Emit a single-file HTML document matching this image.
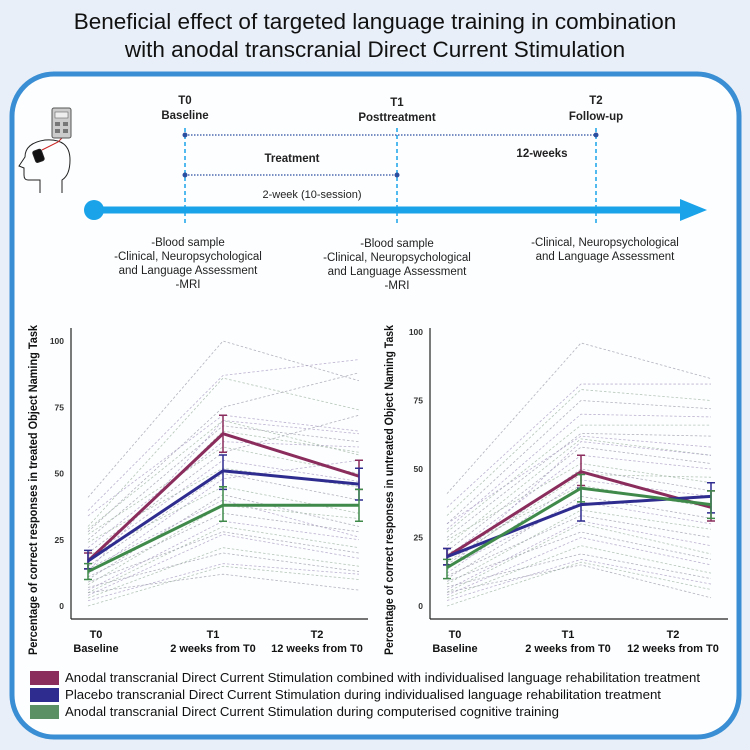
<!DOCTYPE html>
<html><head><meta charset="utf-8"><style>
html,body{margin:0;padding:0;background:#e8eff8;}
svg{display:block;font-family:"Liberation Sans",Arial,sans-serif;}
</style></head><body>
<svg id="root" width="750" height="750" viewBox="0 0 750 750">
<rect x="0" y="0" width="750" height="750" fill="#e8eff8"/>
<g>
<text x="375" y="29" text-anchor="middle" font-size="22.5" fill="#111">Beneficial effect of targeted language training in combination</text>
<text x="375" y="57" text-anchor="middle" font-size="22.5" fill="#111">with anodal transcranial Direct Current Stimulation</text>
</g>
<rect x="12" y="74" width="727" height="663" rx="42" ry="42" fill="#fdfeff" stroke="#3a8ed3" stroke-width="5"/>

<g fill="none" stroke="#222" stroke-width="1">
<path d="M40,193 L40,180 L28,180 Q24,180 24,175 L24,168 L19,166 L25,157 Q25,143 45,140 Q70,138 70,160 Q70,175 62,180 L62,193"/>
<rect x="34" y="150" width="9" height="12" rx="2" fill="#111" transform="rotate(-20 38 156)"/>
<path d="M42,150 Q50,146 58,142 L62,138" stroke="#c22"/>
<rect x="52" y="108" width="19" height="30" rx="2" fill="#ccc" stroke="#555"/>
<rect x="55" y="112" width="13" height="6" fill="#eee" stroke="#666" stroke-width="0.6"/>
<rect x="55" y="122" width="5" height="4" fill="#777" stroke="none"/><rect x="63" y="122" width="5" height="4" fill="#777" stroke="none"/>
<rect x="55" y="129" width="5" height="4" fill="#777" stroke="none"/><rect x="63" y="129" width="5" height="4" fill="#777" stroke="none"/>
</g>

<g>
<circle cx="94" cy="210" r="10" fill="#1aa3e8"/>
<rect x="94" y="206.5" width="590" height="7" fill="#1aa3e8"/>
<polygon points="680,199 707,210 680,221" fill="#1aa3e8"/>
<g stroke="#1aa3e8" stroke-width="1.5" stroke-dasharray="4,3">
<line x1="185" y1="128" x2="185" y2="225"/><line x1="397" y1="128" x2="397" y2="225"/><line x1="596" y1="128" x2="596" y2="225"/>
</g>
<g stroke="#2a4fa0" stroke-width="1.3" stroke-dasharray="1.5,1.5">
<line x1="185" y1="135" x2="596" y2="135"/>
<line x1="185" y1="175" x2="397" y2="175"/>
</g>
<g fill="#2a4fa0"><circle cx="185" cy="135" r="2.5"/><circle cx="596" cy="135" r="2.5"/><circle cx="185" cy="175" r="2.5"/><circle cx="397" cy="175" r="2.5"/></g>
<g font-size="11.5" font-weight="bold" text-anchor="middle" fill="#222">
<text x="185" y="104">T0</text><text x="185" y="119">Baseline</text>
<text x="397" y="106">T1</text><text x="397" y="121">Posttreatment</text>
<text x="596" y="104">T2</text><text x="596" y="120">Follow-up</text>
<text x="292" y="162">Treatment</text><text x="542" y="157">12-weeks</text>
</g>
<text x="312" y="198" font-size="11" text-anchor="middle" fill="#222">2-week (10-session)</text>
<g font-size="11.5" text-anchor="middle" fill="#222">
<text x="188" y="246">-Blood sample</text><text x="188" y="260">-Clinical, Neuropsychological</text><text x="188" y="274">and Language Assessment</text><text x="188" y="288">-MRI</text>
<text x="397" y="247">-Blood sample</text><text x="397" y="261">-Clinical, Neuropsychological</text><text x="397" y="275">and Language Assessment</text><text x="397" y="289">-MRI</text>
<text x="605" y="246">-Clinical, Neuropsychological</text><text x="605" y="260">and Language Assessment</text>
</g>
</g>

<g id="chartL"></g>
<g id="chartR"></g>

<g>
<g><rect x="30" y="671" width="29" height="14" fill="#8a2c5c"/><text x="65" y="682" font-size="13" textLength="635" lengthAdjust="spacingAndGlyphs" fill="#111">Anodal transcranial Direct Current Stimulation combined with individualised language rehabilitation treatment</text></g>
<g><rect x="30" y="688" width="29" height="14" fill="#2e2c8e"/><text x="65" y="699" font-size="13" textLength="596" lengthAdjust="spacingAndGlyphs" fill="#111">Placebo transcranial Direct Current Stimulation during individualised language rehabilitation treatment</text></g>
<g><rect x="30" y="705" width="29" height="14" fill="#5b9065"/><text x="65" y="716" font-size="13" textLength="494" lengthAdjust="spacingAndGlyphs" fill="#111">Anodal transcranial Direct Current Stimulation during computerised cognitive training</text></g>
</g>
</svg>
<script>
// ---- data ----
const timepoints = ["T0","T1","T2"];
const timeSub = ["Baseline","2 weeks from T0","12 weeks from T0"];
const yTicks = [0,25,50,75,100];
const seriesNames = ["anodal-language","placebo-language","anodal-cognitive"];
const seriesColors = ["#8a2c5c","#2e2c8e","#3f8a4a"];
const treatedMeans = [[17,65,49],[17,51,46],[13,38,38]];
const treatedLow = [[14,58,44],[14,44,40],[10,32,32]];
const treatedHigh = [[20,72,55],[21,57,52],[16,45,44]];
const untreatedMeans = [[18,49,36],[18,37,40],[14,43,37]];
const untreatedLow = [[15,44,31],[15,31,34],[10,38,32]];
const untreatedHigh = [[21,55,42],[21,43,45],[17,48,42]];
const treatedSubjects = [
[41,100,85],[36,87,93],[30,86,74],[28,75,88],[34,72,66],[29,70,57],[25,68,62],[22,62,60],[27,60,50],[20,58,72],[18,55,47],[24,52,45],[15,50,40],[12,48,55],[19,45,35],[10,42,30],[14,40,26],[8,38,33],[11,35,28],[6,32,25],[5,30,22],[9,28,20],[4,27,18],[3,22,15],[7,20,13],[2,16,12],[0,15,10],[5,12,6],[13,70,65],[16,66,58]];
const untreatedSubjects = [
[41,96,83],[36,81,81],[33,79,75],[30,75,72],[28,70,69],[27,66,66],[25,63,62],[30,62,58],[22,61,55],[20,58,52],[18,55,50],[24,52,45],[15,50,42],[12,46,40],[19,44,36],[10,40,32],[14,38,30],[8,35,28],[11,33,25],[6,31,22],[5,30,19],[9,27,17],[4,25,15],[3,22,12],[7,19,10],[2,17,8],[0,16,6],[5,15,3],[13,60,55],[16,48,47]];

const NS="http://www.w3.org/2000/svg";
function mk(parent,tag,attrs){const e=document.createElementNS(NS,tag);for(const k in attrs)e.setAttribute(k,attrs[k]);parent.appendChild(e);return e;}

function drawChart(g,cfg,means,low,high,subjects){
  const yS=v=>cfg.y0+(cfg.y100-cfg.y0)*v/100;
  const xS=i=>cfg.xs[i];
  // axes
  const ya=mk(g,'line',{x1:cfg.ax,y1:328,x2:cfg.ax,y2:619,stroke:'#222','stroke-width':1.2});
  
  
  const xa=mk(g,'line',{x1:cfg.ax,y1:619,x2:cfg.axEnd,y2:619,stroke:'#222','stroke-width':1.2});
  
  
  yTicks.forEach(t=>{
    const tx=mk(g,'text',{x:cfg.ax-7,y:yS(t)+3,'font-size':8.5,'font-weight':'bold','text-anchor':'end',fill:'#333'});
    tx.textContent=t;
    
    
  });
  timepoints.forEach((t,i)=>{
    const a=mk(g,'text',{x:cfg.lx[i],y:638,'font-size':11,'font-weight':'bold','text-anchor':'middle',fill:'#111'});a.textContent=t;
    
    
    const b=mk(g,'text',{x:cfg.lx[i],y:652,'font-size':11,'font-weight':'bold','text-anchor':'middle',fill:'#111'});b.textContent=timeSub[i];
    
    
  });
  const yt=mk(g,'text',{x:0,y:0,'font-size':11.5,'font-weight':'bold','text-anchor':'middle',fill:'#111',transform:`translate(${cfg.tx},490) rotate(-90)`,textLength:330,lengthAdjust:'spacingAndGlyphs'});
  yt.textContent=cfg.title;
  
  
  const subCols=['#9a9aa8','#a79ac0','#9cb3a0'];
  subjects.forEach((s,k)=>{
    const p=mk(g,'polyline',{points:s.map((v,i)=>xS(i)+','+yS(v)).join(' '),fill:'none',stroke:subCols[k%3],'stroke-width':0.8,'stroke-dasharray':'2.5,2','stroke-opacity':0.75});
    
    
  });
  means.forEach((m,si)=>{
    const c=seriesColors[si];
    m.forEach((v,i)=>{
      const e=mk(g,'path',{d:`M${xS(i)},${yS(low[si][i])}V${yS(high[si][i])}M${xS(i)-4},${yS(low[si][i])}h8M${xS(i)-4},${yS(high[si][i])}h8`,stroke:c,'stroke-width':1.5,fill:'none'});
      
      
    });
    const l=mk(g,'polyline',{points:m.map((v,i)=>xS(i)+','+yS(v)).join(' '),fill:'none',stroke:c,'stroke-width':3});
    
    
  });
}
drawChart(document.getElementById('chartL'),{ax:71,axEnd:368,y0:606,y100:341,xs:[88,223,359],lx:[96,213,317],tx:37,title:'Percentage of correct responses in treated Object Naming Task'},treatedMeans,treatedLow,treatedHigh,treatedSubjects);
drawChart(document.getElementById('chartR'),{ax:430,axEnd:728,y0:606,y100:332,xs:[447,581,711],lx:[455,568,673],tx:393,title:'Percentage of correct responses in untreated Object Naming Task'},untreatedMeans,untreatedLow,untreatedHigh,untreatedSubjects);
</script>
</body></html>
